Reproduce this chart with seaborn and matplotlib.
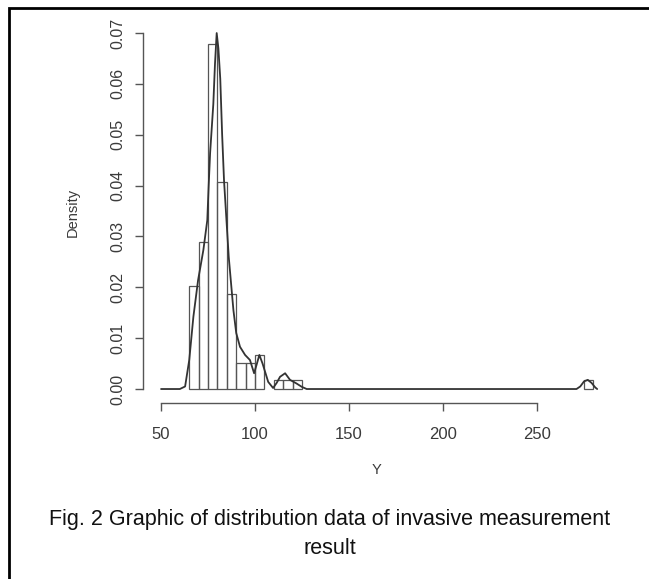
import numpy as np
import pandas as pd
import matplotlib
matplotlib.use('Agg')
import matplotlib.pyplot as plt
import seaborn as sns
from matplotlib.patches import Rectangle

# Histogram bins (width 5) and counts, N = 118
bin_left = [65, 70, 75, 80, 85, 90, 95, 100, 110, 115, 120, 275]
counts = [12, 17, 40, 24, 11, 3, 3, 4, 1, 1, 1, 1]

# Density curve points
dens_x = [50, 60, 62.8, 65, 67.2, 69.7, 72.5, 74.6, 75.3, 76.1, 77.8, 78.7, 79.6,
          80.5, 81.5, 82.5, 83.5, 84.5, 86, 88.5, 90, 92, 94.7, 97.3, 99.5, 101,
          102.3, 104, 107, 109.6, 111.5, 113.3, 116, 118.6, 122, 125, 127.5,
          271, 273, 275, 277, 279, 281, 282]
dens_y = [0, 0, 0.0005, 0.0057, 0.0142, 0.0214, 0.0273, 0.0332, 0.0397, 0.0464,
          0.056, 0.064, 0.070, 0.067, 0.061, 0.050, 0.041, 0.035, 0.026, 0.0155,
          0.011, 0.0083, 0.0067, 0.0057, 0.0031, 0.005, 0.0067, 0.005, 0.0014,
          0.0002, 0.0012, 0.0024, 0.0031, 0.0018, 0.0011, 0.0004, 0,
          0, 0.0005, 0.0015, 0.0018, 0.0012, 0.0003, 0]

x_ticks = [50, 100, 150, 200, 250]
y_ticks = [0.00, 0.01, 0.02, 0.03, 0.04, 0.05, 0.06, 0.07]
caption = ["Fig. 2 Graphic of distribution data of invasive measurement", "result"]

sns.set_style('white')
plt.rcParams['font.family'] = ['Liberation Sans', 'DejaVu Sans']

fig = plt.figure(figsize=(6.49, 5.79), dpi=100)
ax = fig.add_axes([143 / 649, 1 - 403 / 579, 457 / 649, 383 / 579])

hist_df = pd.DataFrame({'Y': np.array(bin_left) + 2.5, 'n': counts})
sns.histplot(data=hist_df, x='Y', weights='n', binwidth=5, binrange=(65, 280),
             stat='density', fill=False, element='bars', color='#555555',
             linewidth=0.9, ax=ax)
# drop empty bins so only real bars are outlined
for p in ax.patches:
    if p.get_height() == 0:
        p.set_visible(False)
sns.lineplot(x=dens_x, y=dens_y, color='#333333', linewidth=1.3, ax=ax)

ax.set_xlim(40.4, 283.5)
ax.set_ylim(-0.00275, 0.07256)
ax.set_xticks(x_ticks)
ax.set_xticklabels([str(t) for t in x_ticks])
ax.set_yticks(y_ticks)
ax.set_yticklabels([f'{t:.2f}' for t in y_ticks], rotation=90, va='center')
ax.tick_params(axis='x', length=6, width=1, color='#555555', pad=11,
               labelsize=12, labelcolor='#3a3a3a')
ax.tick_params(axis='y', length=6, width=1, color='#555555', pad=7,
               labelsize=11.5, labelcolor='#3a3a3a')
ax.tick_params(bottom=True, left=True)
for s in ['top', 'right']:
    ax.spines[s].set_visible(False)
for s in ['left', 'bottom']:
    ax.spines[s].set_color('#555555')
    ax.spines[s].set_linewidth(1)
ax.spines['bottom'].set_bounds(50, 250)
ax.spines['left'].set_bounds(0, 0.07)
ax.set_xlabel('Y', fontsize=10.5, color='#3a3a3a')
ax.set_ylabel('Density', fontsize=10.5, color='#3a3a3a')
ax.xaxis.set_label_coords((377 - 143) / 457, -(463 - 403) / 383)
ax.yaxis.set_label_coords(-(143 - 80) / 457, (403 - 212) / 383)

fig.text(330 / 649, 1 - 520 / 579, caption[0], ha='center', va='center',
         fontsize=15.5, color='#111111')
fig.text(330 / 649, 1 - 549 / 579, caption[1], ha='center', va='center',
         fontsize=15.5, color='#111111')

fig.patches.append(Rectangle((9 / 649, -0.1), 1.2, 1 - 8 / 579 + 0.1,
                             transform=fig.transFigure, fill=False,
                             edgecolor='black', linewidth=2))

fig.savefig('out.png', dpi=100)
